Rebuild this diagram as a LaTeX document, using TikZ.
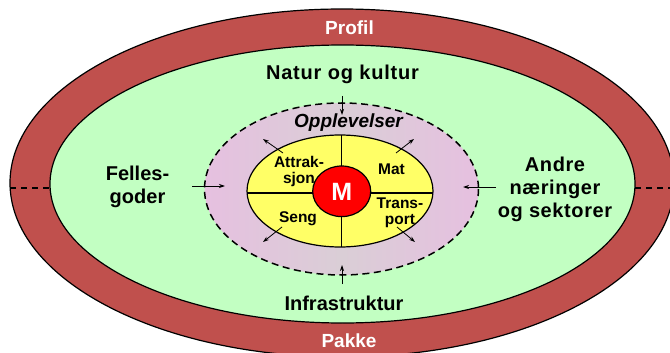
\documentclass[tikz,border=0pt]{standalone}
\usepackage{fontspec}
\setmainfont{Liberation Sans}
\usetikzlibrary{arrows.meta}
\definecolor{bandred}{RGB}{192,80,77}
\definecolor{lgreen}{RGB}{194,255,194}
\definecolor{mist}{RGB}{218,206,214}
\definecolor{mistpink}{RGB}{230,192,224}
\definecolor{lyellow}{RGB}{255,255,102}
\definecolor{mred}{RGB}{255,0,0}
\begin{document}
\begin{tikzpicture}[x=1pt,y=-1pt,
  big/.style={font=\bfseries\fontsize{20}{23}\selectfont, inner sep=0pt, align=center},
  white/.style={font=\bfseries\fontsize{19}{22}\selectfont, text=white, inner sep=0pt},
  small/.style={font=\bfseries\fontsize{15.5}{16}\selectfont, inner sep=0pt, align=center},
  arr/.style={line width=0.8pt, -{Stealth[length=6pt,width=4pt]}},
  sep/.style={line width=1.2pt, dash pattern=on 6pt off 5pt}]
\useasboundingbox (0,0) rectangle (670,353);
% rings
\filldraw[fill=bandred, line width=1.2pt] (342,183) ellipse [x radius=332, y radius=174];
\filldraw[fill=lgreen, line width=1.2pt] (342.5,184) ellipse [x radius=292.5, y radius=139];
\shade[left color=mistpink, right color=mistpink, middle color=mist] (341.5,189) ellipse [x radius=137, y radius=86];
\draw[line width=1.5pt, dash pattern=on 7pt off 4.5pt] (341.5,189) ellipse [x radius=137, y radius=86];
\filldraw[fill=lyellow, line width=1.2pt] (340,191) ellipse [x radius=93, y radius=56];
\draw[line width=1.2pt] (341.7,135) -- (341.7,247);
\draw[line width=1.2pt] (247,193) -- (433,193);
\filldraw[fill=mred, line width=1.2pt] (341.7,191.3) ellipse [x radius=29, y radius=25.3];
% separators in the band
\coordinate (lsA) at (10,188); \coordinate (lsB) at (50,188);
\coordinate (rsA) at (635,188); \coordinate (rsB) at (672,188);
\draw[sep] (lsA) -- (lsB);
\draw[sep] (rsA) -- (rsB);
% texts
\node[white, anchor=base] (profil) at (349.5,35) {Profil};
\node[white, anchor=base] (pakke) at (349,347) {Pakke};
\node[big, anchor=base] (natur) at (342.5,80) {\addfontfeature{LetterSpace=4}Natur og kultur};
\node[big, anchor=base] (infra) at (344,310) {Infrastruktur};
\node[big, anchor=base] (felles) at (137.5,203) {Felles-\\goder};
\node[big, anchor=base] (andre) at (555,217) {\addfontfeature{LetterSpace=3}Andre\\\addfontfeature{LetterSpace=3}næringer\\\addfontfeature{LetterSpace=3}og sektorer};
\node[font=\bfseries\itshape\fontsize{19}{22}\selectfont, inner sep=0pt, anchor=base] (oppl) at (348.5,128) {Opplevelser};
\node[small, anchor=base] (attr) at (299,183) {Attrak-\\sjon};
\node[small, anchor=base] (mat) at (391.5,175) {Mat};
\node[small, anchor=base] (seng) at (298,222) {Seng};
\node[small, anchor=base] (trans) at (400,224) {Trans-\\port};
\node[font=\bfseries\fontsize{25}{25}\selectfont, text=white, inner sep=0pt, anchor=base] (m) at (341.7,200) {M};
% arrows
\coordinate (nwT) at (283,153); \coordinate (nwH) at (263,139);
\coordinate (neT) at (396,153); \coordinate (neH) at (414,139);
\coordinate (swT) at (282,227); \coordinate (swH) at (263,242);
\coordinate (seT) at (397,227); \coordinate (seH) at (415,242);
\draw[arr] (nwT) -- (nwH);
\draw[arr] (neT) -- (neH);
\draw[arr] (swT) -- (swH);
\draw[arr] (seT) -- (seH);
\coordinate (tT) at (342,96); \coordinate (tH) at (342,115);
\coordinate (bT) at (342,284); \coordinate (bH) at (342,265);
\coordinate (lT) at (192,186); \coordinate (lH) at (225,186);
\coordinate (rT) at (496,187); \coordinate (rH) at (463,187);
\draw[arr] (tT) -- (tH);
\draw[arr] (bT) -- (bH);
\draw[arr] (lT) -- (lH);
\draw[arr] (rT) -- (rH);
\end{tikzpicture}
\end{document}
